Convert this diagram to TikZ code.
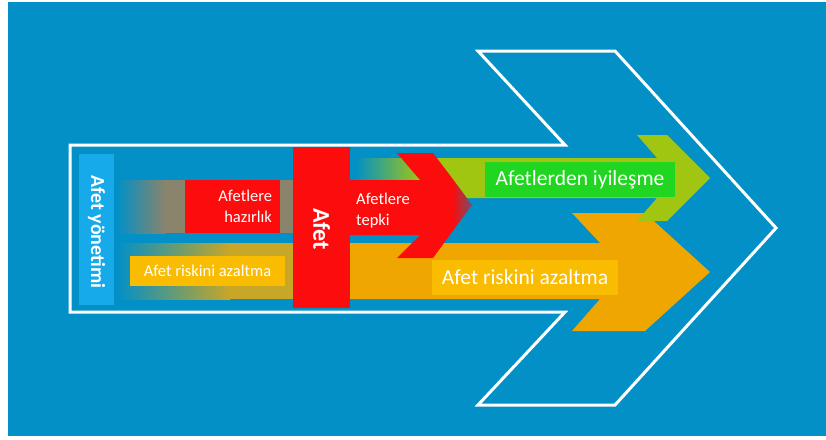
\documentclass[tikz,border=0pt]{standalone}
\usepackage{fontspec}
\setmainfont{Carlito}

\definecolor{bgblue}{RGB}{2,144,199}
\definecolor{skyblue}{RGB}{22,170,234}
\definecolor{redA}{RGB}{252,12,12}
\definecolor{orangeA}{RGB}{240,166,0}
\definecolor{goldA}{RGB}{250,188,0}
\definecolor{limeA}{RGB}{160,198,18}
\definecolor{greenA}{RGB}{32,214,32}
\definecolor{oliveA}{RGB}{138,132,108}
\definecolor{mustardA}{RGB}{200,166,38}

\begin{document}
\begin{tikzpicture}[x=1pt,y=-1pt]

\tikzset{
  boxtxt/.style={inner sep=0pt, text=white, align=center},
  small/.style={font=\fontsize{16.5}{21}\selectfont},
  big/.style={font=\fontsize{21.5}{24}\selectfont}
}

\useasboundingbox (0,0) rectangle (826,439);

% Draw background
\fill[white] (0,0) rectangle (826,439);
\fill[bgblue] (8,2) rectangle (826,436);

% Draw white outline arrow
\draw[white, line width=3pt, line join=miter]
  (70,145) -- (565,145) -- (478,51) -- (615,51) -- (776,228)
  -- (615,405) -- (478,405) -- (565,312) -- (70,312) -- cycle;

% Draw lower band (risk reduction) with fade from the left
\shade[left color=bgblue, right color=mustardA] (117,243) rectangle (230,299);
\fill[mustardA] (230,243) rectangle (294,299);
\fill[orangeA] (293,243) -- (600,243) -- (572,213) -- (645,213) -- (710,272)
  -- (645,331) -- (572,331) -- (600,299) -- (293,299) -- cycle;

% Draw upper band (preparedness) with fade from the left
\shade[left color=bgblue, right color=oliveA] (117,180) rectangle (165,233);
\fill[oliveA] (165,180) rectangle (294,233);

% Draw recovery band and arrow
\shade[left color=bgblue, right color=limeA] (355,158) rectangle (420,198);
\fill[limeA] (419,158) -- (657,158) -- (637,135) -- (667,135) -- (710,178)
  -- (667,221) -- (637,221) -- (657,198) -- (419,198) -- cycle;

% Draw response arrow
\fill[redA] (349,180) -- (420,180) -- (397,153) -- (433,153) -- (452,178)
  -- (452,232) -- (433,258) -- (397,258) -- (420,235) -- (349,235) -- cycle;
% Fade the tip
\shade[left color=redA, right color=red!45!bgblue] (452,178) -- (472,205) -- (452,232) -- cycle;

% Draw label boxes
\node[boxtxt, fill=skyblue, minimum width=35pt, minimum height=151pt] (mgmt) at (96.5,229.5) {};
\node[boxtxt, rotate=-90, font=\fontsize{20}{22}\selectfont\bfseries] at (96.5,232) {Afet yönetimi};

\node[boxtxt, small, fill=redA, text width=79pt, inner xsep=8pt, align=right,
  minimum height=53pt] (prep) at (232.5,206.5) {Afetlere\\hazırlık};

\node[boxtxt, small, fill=goldA, minimum width=155pt, minimum height=30pt] (riskA) at (207.5,271) {Afet riskini azaltma};

\node[boxtxt, fill=redA, minimum width=57pt, minimum height=161pt] (afet) at (321.5,227.5) {};
\node[boxtxt, rotate=-90, font=\fontsize{24}{26}\selectfont\bfseries] at (321.5,229) {Afet};

\node[boxtxt, small, anchor=west, align=left] (resp) at (356,211) {Afetlere\\tepki};

\node[boxtxt, big, fill=greenA, minimum width=190pt, minimum height=35pt] (recov) at (580,179.5) {Afetlerden iyileşme};

\node[boxtxt, big, fill=goldA, minimum width=186pt, minimum height=35pt] (riskB) at (525,277.5) {Afet riskini azaltma};

\end{tikzpicture}
\end{document}
